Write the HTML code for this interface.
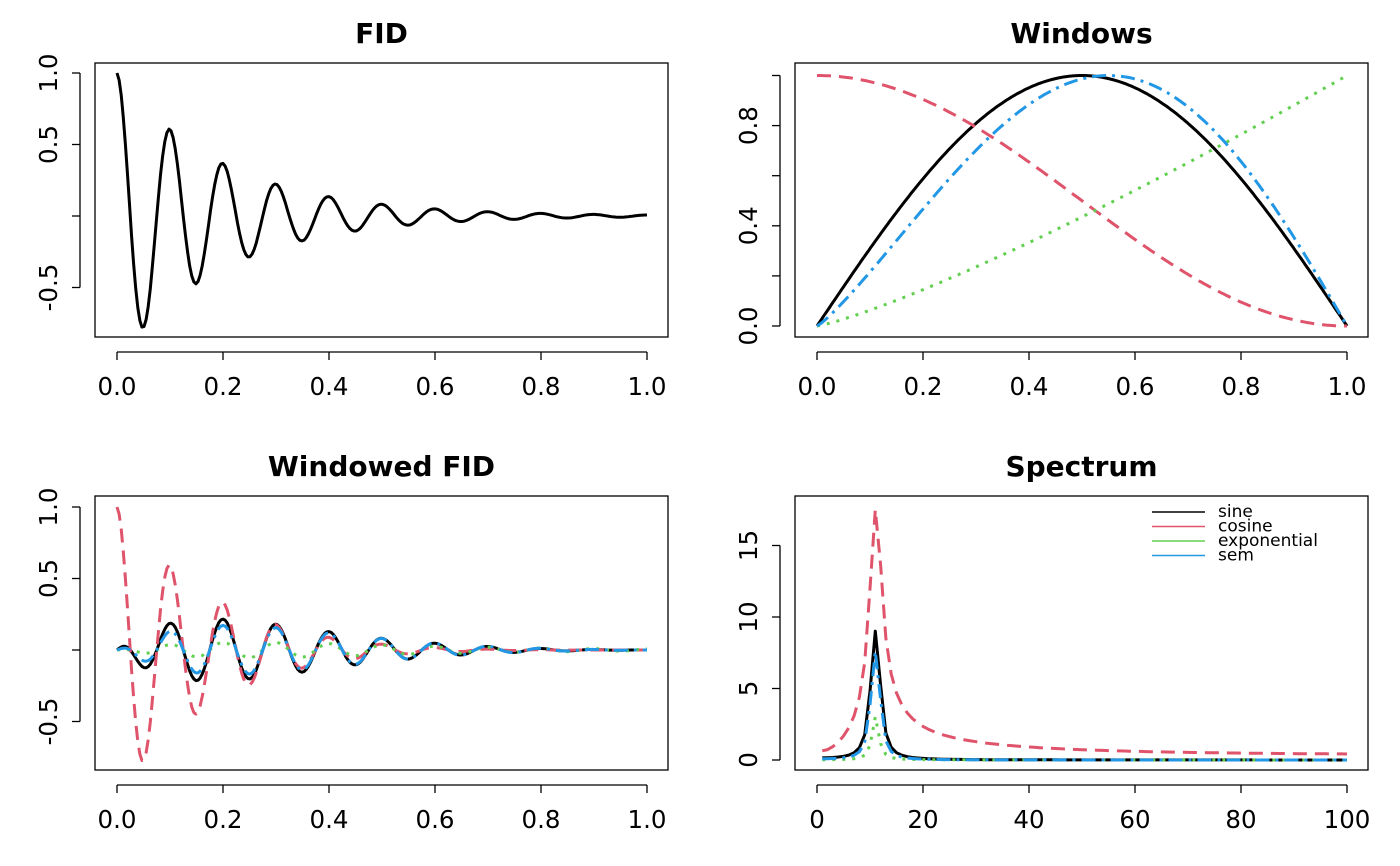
<!DOCTYPE html>
<html><head><meta charset="utf-8"><style>
html,body{margin:0;padding:0;background:#fff;}
svg{display:block;font-family:"DejaVu Sans","Liberation Sans",sans-serif;}
</style></head><body>
<svg id="s" width="1400" height="866" xmlns="http://www.w3.org/2000/svg"></svg>
<script>
const S=document.getElementById('s');let out='';
const C={k:'#000',r:'#DF536B',g:'#61D04F',b:'#2297E6'};
function panel(o){
 const [x0,y0,x1,y1]=o.box;
 out+=`<clipPath id="c${o.id}"><rect x="${x0}" y="${y0}" width="${x1-x0}" height="${y1-y0}"/></clipPath>`;
 out+=`<rect x="${x0}" y="${y0}" width="${x1-x0}" height="${y1-y0}" fill="none" stroke="#000" stroke-width="1.3"/>`;
 out+=`<text x="${(x0+x1)/2}" y="${y0-20}" font-size="28" font-weight="bold" text-anchor="middle">${o.title}</text>`;
 const ax=y1+15;
 const xs=o.xt.map(t=>o.X(t[0]));
 out+=`<line x1="${xs[0]}" x2="${xs[xs.length-1]}" y1="${ax}" y2="${ax}" stroke="#000" stroke-width="1.3"/>`;
 o.xt.forEach(t=>{const x=o.X(t[0]);out+=`<line x1="${x}" x2="${x}" y1="${ax}" y2="${ax+8}" stroke="#000" stroke-width="1.3"/><text x="${x}" y="${ax+43}" font-size="24.5" text-anchor="middle">${t[1]}</text>`;});
 const ay=x0-15;const ys=o.yt.map(t=>o.Y(t[0]));
 out+=`<line y1="${ys[0]}" y2="${ys[ys.length-1]}" x1="${ay}" x2="${ay}" stroke="#000" stroke-width="1.3"/>`;
 o.yt.forEach(t=>{const y=o.Y(t[0]);out+=`<line y1="${y}" y2="${y}" x1="${ay}" x2="${ay-8}" stroke="#000" stroke-width="1.3"/>`;if(t[1])out+=`<text transform="translate(${ay-23},${y}) rotate(-90)" font-size="24.5" text-anchor="middle">${t[1]}</text>`;});
 out+=`<g clip-path="url(#c${o.id})">`;
 o.series.forEach(s=>{const p=s.pts.map(q=>o.X(q[0]).toFixed(1)+','+o.Y(q[1]).toFixed(1)).join(' ');
  out+=`<polyline points="${p}" fill="none" stroke="${s.c}" stroke-width="3" stroke-dasharray="${s.d||''}" stroke-linejoin="round"/>`;});
 out+='</g>';
}
const N=256,T=[];for(let i=0;i<N;i++)T.push(i/(N-1));
const fid=t=>Math.exp(-5*t)*Math.cos(2*Math.PI*10*t);
const W={k:t=>Math.sin(Math.PI*t),r:t=>(1+Math.cos(Math.PI*t))/2,g:t=>Math.pow(t,1.2),b:t=>Math.sin(Math.PI*Math.pow(t,1.16))};
const DASH={k:'',r:'14,8',g:'3,7',b:'14,6,3,6'};
const ord=['k','r','g','b'];
const X01=(a,b)=>t=>a+(b-a)*t;
panel({id:1,box:[95,63,668,337],X:X01(117,647),Y:v=>216-143*v,title:'FID',
 xt:[[0,'0.0'],[0.2,'0.2'],[0.4,'0.4'],[0.6,'0.6'],[0.8,'0.8'],[1,'1.0']],
 yt:[[-0.5,'-0.5'],[0,''],[0.5,'0.5'],[1,'1.0']],
 series:[{c:C.k,pts:T.map(t=>[t,fid(t)])}]});
panel({id:2,box:[795,63,1368,337],X:X01(817,1347),Y:v=>326-250.5*v,title:'Windows',
 xt:[[0,'0.0'],[0.2,'0.2'],[0.4,'0.4'],[0.6,'0.6'],[0.8,'0.8'],[1,'1.0']],
 yt:[[0,'0.0'],[0.2,''],[0.4,'0.4'],[0.6,''],[0.8,'0.8'],[1,'']],
 series:ord.map(k=>({c:C[k],d:DASH[k],pts:T.map(t=>[t,W[k](t)])}))});
panel({id:3,box:[95,496,668,770],X:X01(117,647),Y:v=>650-143*v,title:'Windowed FID',
 xt:[[0,'0.0'],[0.2,'0.2'],[0.4,'0.4'],[0.6,'0.6'],[0.8,'0.8'],[1,'1.0']],
 yt:[[-0.5,'-0.5'],[0,''],[0.5,'0.5'],[1,'1.0']],
 series:ord.map(k=>({c:C[k],d:DASH[k],pts:T.map(t=>[t,fid(t)*W[k](t)])}))});
const spec={};let mx=0;
ord.forEach(k=>{const sig=T.map(t=>fid(t)*W[k](t));const m=[];
 for(let f=0;f<100;f++){let re=0,im=0;for(let i=0;i<N;i++){const a=2*Math.PI*f*i/N;re+=sig[i]*Math.cos(a);im-=sig[i]*Math.sin(a);}m.push(Math.hypot(re,im));}
 spec[k]=m;if(k=='r')mx=Math.max(...m);});
const sc=17.5/mx;
panel({id:4,box:[795,496,1368,770],X:v=>817+(v/100)*530,Y:v=>760-14.3*v,title:'Spectrum',
 xt:[[0,'0'],[20,'20'],[40,'40'],[60,'60'],[80,'80'],[100,'100']],
 yt:[[0,'0'],[5,'5'],[10,'10'],[15,'15']],
 series:ord.map(k=>({c:C[k],d:DASH[k],pts:spec[k].map((v,i)=>[i+1,v*sc])}))});
const lab=['sine','cosine','exponential','sem'];
ord.forEach((k,i)=>{const y=512+i*14.5;out+=`<line x1="1152" x2="1205" y1="${y}" y2="${y}" stroke="${C[k]}" stroke-width="1.5"/><text x="1218" y="${y+5}" font-size="17">${lab[i]}</text>`;});
S.innerHTML=out;
</script>
</body></html>
